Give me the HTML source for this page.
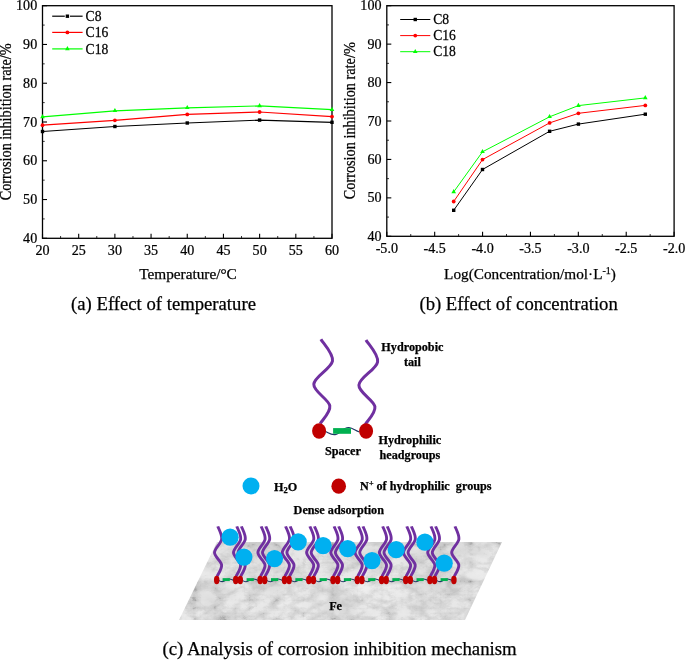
<!DOCTYPE html>
<html><head><meta charset="utf-8"><style>
html,body{margin:0;padding:0;background:#fff;width:685px;height:660px;overflow:hidden}
svg text{fill:#000;stroke:#000;stroke-width:0.25px}
svg{will-change:transform}
</style></head><body>
<svg width="685" height="660" viewBox="0 0 685 660" style="position:absolute;left:0;top:0" font-family='"Liberation Serif", serif'><rect x="42.5" y="5.7" width="289.5" height="232.60000000000002" fill="none" stroke="#000" stroke-width="1.3"/><line x1="42.50" y1="238.3" x2="42.50" y2="233.8" stroke="#000" stroke-width="1.1"/><line x1="78.69" y1="238.3" x2="78.69" y2="233.8" stroke="#000" stroke-width="1.1"/><line x1="114.88" y1="238.3" x2="114.88" y2="233.8" stroke="#000" stroke-width="1.1"/><line x1="151.06" y1="238.3" x2="151.06" y2="233.8" stroke="#000" stroke-width="1.1"/><line x1="187.25" y1="238.3" x2="187.25" y2="233.8" stroke="#000" stroke-width="1.1"/><line x1="223.44" y1="238.3" x2="223.44" y2="233.8" stroke="#000" stroke-width="1.1"/><line x1="259.62" y1="238.3" x2="259.62" y2="233.8" stroke="#000" stroke-width="1.1"/><line x1="295.81" y1="238.3" x2="295.81" y2="233.8" stroke="#000" stroke-width="1.1"/><line x1="332.00" y1="238.3" x2="332.00" y2="233.8" stroke="#000" stroke-width="1.1"/><line x1="60.59" y1="238.3" x2="60.59" y2="236.0" stroke="#000" stroke-width="0.8"/><line x1="96.78" y1="238.3" x2="96.78" y2="236.0" stroke="#000" stroke-width="0.8"/><line x1="132.97" y1="238.3" x2="132.97" y2="236.0" stroke="#000" stroke-width="0.8"/><line x1="169.16" y1="238.3" x2="169.16" y2="236.0" stroke="#000" stroke-width="0.8"/><line x1="205.34" y1="238.3" x2="205.34" y2="236.0" stroke="#000" stroke-width="0.8"/><line x1="241.53" y1="238.3" x2="241.53" y2="236.0" stroke="#000" stroke-width="0.8"/><line x1="277.72" y1="238.3" x2="277.72" y2="236.0" stroke="#000" stroke-width="0.8"/><line x1="313.91" y1="238.3" x2="313.91" y2="236.0" stroke="#000" stroke-width="0.8"/><line x1="42.5" y1="238.30" x2="47.0" y2="238.30" stroke="#000" stroke-width="1.1"/><line x1="42.5" y1="199.53" x2="47.0" y2="199.53" stroke="#000" stroke-width="1.1"/><line x1="42.5" y1="160.77" x2="47.0" y2="160.77" stroke="#000" stroke-width="1.1"/><line x1="42.5" y1="122.00" x2="47.0" y2="122.00" stroke="#000" stroke-width="1.1"/><line x1="42.5" y1="83.23" x2="47.0" y2="83.23" stroke="#000" stroke-width="1.1"/><line x1="42.5" y1="44.47" x2="47.0" y2="44.47" stroke="#000" stroke-width="1.1"/><line x1="42.5" y1="5.70" x2="47.0" y2="5.70" stroke="#000" stroke-width="1.1"/><line x1="42.5" y1="218.92" x2="44.7" y2="218.92" stroke="#000" stroke-width="0.8"/><line x1="42.5" y1="180.15" x2="44.7" y2="180.15" stroke="#000" stroke-width="0.8"/><line x1="42.5" y1="141.38" x2="44.7" y2="141.38" stroke="#000" stroke-width="0.8"/><line x1="42.5" y1="102.62" x2="44.7" y2="102.62" stroke="#000" stroke-width="0.8"/><line x1="42.5" y1="63.85" x2="44.7" y2="63.85" stroke="#000" stroke-width="0.8"/><line x1="42.5" y1="25.08" x2="44.7" y2="25.08" stroke="#000" stroke-width="0.8"/><text transform="translate(42.50,255.3) scale(0.94,1)" text-anchor="middle" font-size="15">20</text><text transform="translate(78.69,255.3) scale(0.94,1)" text-anchor="middle" font-size="15">25</text><text transform="translate(114.88,255.3) scale(0.94,1)" text-anchor="middle" font-size="15">30</text><text transform="translate(151.06,255.3) scale(0.94,1)" text-anchor="middle" font-size="15">35</text><text transform="translate(187.25,255.3) scale(0.94,1)" text-anchor="middle" font-size="15">40</text><text transform="translate(223.44,255.3) scale(0.94,1)" text-anchor="middle" font-size="15">45</text><text transform="translate(259.62,255.3) scale(0.94,1)" text-anchor="middle" font-size="15">50</text><text transform="translate(295.81,255.3) scale(0.94,1)" text-anchor="middle" font-size="15">55</text><text transform="translate(332.00,255.3) scale(0.94,1)" text-anchor="middle" font-size="15">60</text><text transform="translate(37.20,242.90) scale(0.94,1)" text-anchor="end" font-size="15">40</text><text transform="translate(37.20,204.13) scale(0.94,1)" text-anchor="end" font-size="15">50</text><text transform="translate(37.20,165.37) scale(0.94,1)" text-anchor="end" font-size="15">60</text><text transform="translate(37.20,126.60) scale(0.94,1)" text-anchor="end" font-size="15">70</text><text transform="translate(37.20,87.83) scale(0.94,1)" text-anchor="end" font-size="15">80</text><text transform="translate(37.20,49.07) scale(0.94,1)" text-anchor="end" font-size="15">90</text><text transform="translate(37.20,10.30) scale(0.94,1)" text-anchor="end" font-size="15">100</text><text transform="translate(11.2,121.8) rotate(-90) scale(0.905,1)" text-anchor="middle" font-size="15.8">Corrosion inhibition rate/%</text><text x="188" y="279" text-anchor="middle" font-size="15.3">Temperature/°C</text><path d="M42.50,131.50 L114.90,126.50 L187.25,123.00 L259.60,120.10 L332.00,122.30" fill="none" stroke="#000000" stroke-width="1.2"/><rect x="40.80" y="129.80" width="3.4" height="3.4" fill="#000000"/><rect x="113.20" y="124.80" width="3.4" height="3.4" fill="#000000"/><rect x="185.55" y="121.30" width="3.4" height="3.4" fill="#000000"/><rect x="257.90" y="118.40" width="3.4" height="3.4" fill="#000000"/><rect x="330.30" y="120.60" width="3.4" height="3.4" fill="#000000"/><path d="M42.50,125.20 L114.90,120.30 L187.25,114.40 L259.60,112.00 L332.00,116.60" fill="none" stroke="#ff0000" stroke-width="1.2"/><circle cx="42.50" cy="125.20" r="1.9" fill="#ff0000"/><circle cx="114.90" cy="120.30" r="1.9" fill="#ff0000"/><circle cx="187.25" cy="114.40" r="1.9" fill="#ff0000"/><circle cx="259.60" cy="112.00" r="1.9" fill="#ff0000"/><circle cx="332.00" cy="116.60" r="1.9" fill="#ff0000"/><path d="M42.50,116.90 L114.90,110.80 L187.25,107.80 L259.60,105.90 L332.00,109.60" fill="none" stroke="#00ff00" stroke-width="1.2"/><path d="M42.50,114.10 L44.80,118.20 L40.20,118.20Z" fill="#00ff00"/><path d="M114.90,108.00 L117.20,112.10 L112.60,112.10Z" fill="#00ff00"/><path d="M187.25,105.00 L189.55,109.10 L184.95,109.10Z" fill="#00ff00"/><path d="M259.60,103.10 L261.90,107.20 L257.30,107.20Z" fill="#00ff00"/><path d="M332.00,106.80 L334.30,110.90 L329.70,110.90Z" fill="#00ff00"/><line x1="52.2" y1="16.2" x2="64.80" y2="16.2" stroke="#000000" stroke-width="1.2"/><line x1="70.00" y1="16.2" x2="82.6" y2="16.2" stroke="#000000" stroke-width="1.2"/><rect x="65.70" y="14.50" width="3.4" height="3.4" fill="#000000"/><text transform="translate(85.6,20.9) scale(1,1.08)" font-size="13.6">C8</text><line x1="52.2" y1="32.4" x2="82.6" y2="32.4" stroke="#ff0000" stroke-width="1.2"/><circle cx="67.40" cy="32.40" r="1.9" fill="#ff0000"/><text transform="translate(85.6,37.1) scale(1,1.08)" font-size="13.6">C16</text><line x1="52.2" y1="48.9" x2="82.6" y2="48.9" stroke="#00ff00" stroke-width="1.2"/><path d="M67.40,46.10 L69.70,50.20 L65.10,50.20Z" fill="#00ff00"/><text transform="translate(85.6,53.6) scale(1,1.08)" font-size="13.6">C18</text><rect x="386.8" y="5.7" width="287.3" height="230.60000000000002" fill="none" stroke="#000" stroke-width="1.3"/><line x1="386.80" y1="236.3" x2="386.80" y2="231.8" stroke="#000" stroke-width="1.1"/><line x1="434.68" y1="236.3" x2="434.68" y2="231.8" stroke="#000" stroke-width="1.1"/><line x1="482.57" y1="236.3" x2="482.57" y2="231.8" stroke="#000" stroke-width="1.1"/><line x1="530.45" y1="236.3" x2="530.45" y2="231.8" stroke="#000" stroke-width="1.1"/><line x1="578.33" y1="236.3" x2="578.33" y2="231.8" stroke="#000" stroke-width="1.1"/><line x1="626.22" y1="236.3" x2="626.22" y2="231.8" stroke="#000" stroke-width="1.1"/><line x1="674.10" y1="236.3" x2="674.10" y2="231.8" stroke="#000" stroke-width="1.1"/><line x1="410.74" y1="236.3" x2="410.74" y2="234.0" stroke="#000" stroke-width="0.8"/><line x1="458.62" y1="236.3" x2="458.62" y2="234.0" stroke="#000" stroke-width="0.8"/><line x1="506.51" y1="236.3" x2="506.51" y2="234.0" stroke="#000" stroke-width="0.8"/><line x1="554.39" y1="236.3" x2="554.39" y2="234.0" stroke="#000" stroke-width="0.8"/><line x1="602.27" y1="236.3" x2="602.27" y2="234.0" stroke="#000" stroke-width="0.8"/><line x1="650.16" y1="236.3" x2="650.16" y2="234.0" stroke="#000" stroke-width="0.8"/><line x1="386.8" y1="236.30" x2="391.3" y2="236.30" stroke="#000" stroke-width="1.1"/><line x1="386.8" y1="197.87" x2="391.3" y2="197.87" stroke="#000" stroke-width="1.1"/><line x1="386.8" y1="159.43" x2="391.3" y2="159.43" stroke="#000" stroke-width="1.1"/><line x1="386.8" y1="121.00" x2="391.3" y2="121.00" stroke="#000" stroke-width="1.1"/><line x1="386.8" y1="82.57" x2="391.3" y2="82.57" stroke="#000" stroke-width="1.1"/><line x1="386.8" y1="44.13" x2="391.3" y2="44.13" stroke="#000" stroke-width="1.1"/><line x1="386.8" y1="5.70" x2="391.3" y2="5.70" stroke="#000" stroke-width="1.1"/><line x1="386.8" y1="217.08" x2="389.0" y2="217.08" stroke="#000" stroke-width="0.8"/><line x1="386.8" y1="178.65" x2="389.0" y2="178.65" stroke="#000" stroke-width="0.8"/><line x1="386.8" y1="140.22" x2="389.0" y2="140.22" stroke="#000" stroke-width="0.8"/><line x1="386.8" y1="101.78" x2="389.0" y2="101.78" stroke="#000" stroke-width="0.8"/><line x1="386.8" y1="63.35" x2="389.0" y2="63.35" stroke="#000" stroke-width="0.8"/><line x1="386.8" y1="24.92" x2="389.0" y2="24.92" stroke="#000" stroke-width="0.8"/><text transform="translate(386.80,253.3) scale(0.94,1)" text-anchor="middle" font-size="15">-5.0</text><text transform="translate(434.68,253.3) scale(0.94,1)" text-anchor="middle" font-size="15">-4.5</text><text transform="translate(482.57,253.3) scale(0.94,1)" text-anchor="middle" font-size="15">-4.0</text><text transform="translate(530.45,253.3) scale(0.94,1)" text-anchor="middle" font-size="15">-3.5</text><text transform="translate(578.33,253.3) scale(0.94,1)" text-anchor="middle" font-size="15">-3.0</text><text transform="translate(626.22,253.3) scale(0.94,1)" text-anchor="middle" font-size="15">-2.5</text><text transform="translate(674.10,253.3) scale(0.94,1)" text-anchor="middle" font-size="15">-2.0</text><text transform="translate(381.50,240.90) scale(0.94,1)" text-anchor="end" font-size="15">40</text><text transform="translate(381.50,202.47) scale(0.94,1)" text-anchor="end" font-size="15">50</text><text transform="translate(381.50,164.03) scale(0.94,1)" text-anchor="end" font-size="15">60</text><text transform="translate(381.50,125.60) scale(0.94,1)" text-anchor="end" font-size="15">70</text><text transform="translate(381.50,87.17) scale(0.94,1)" text-anchor="end" font-size="15">80</text><text transform="translate(381.50,48.73) scale(0.94,1)" text-anchor="end" font-size="15">90</text><text transform="translate(381.50,10.30) scale(0.94,1)" text-anchor="end" font-size="15">100</text><text transform="translate(354.8,120.75) rotate(-90) scale(0.905,1)" text-anchor="middle" font-size="15.8">Corrosion inhibition rate/%</text><text x="530.0" y="279.2" text-anchor="middle" font-size="15.25">Log(Concentration/mol·L<tspan font-size="10" dy="-5">-1</tspan><tspan dy="5">)</tspan></text><path d="M453.70,210.30 L482.50,169.50 L549.60,131.30 L578.40,124.10 L645.30,114.20" fill="none" stroke="#000000" stroke-width="1.0"/><rect x="452.00" y="208.60" width="3.4" height="3.4" fill="#000000"/><rect x="480.80" y="167.80" width="3.4" height="3.4" fill="#000000"/><rect x="547.90" y="129.60" width="3.4" height="3.4" fill="#000000"/><rect x="576.70" y="122.40" width="3.4" height="3.4" fill="#000000"/><rect x="643.60" y="112.50" width="3.4" height="3.4" fill="#000000"/><path d="M453.70,201.50 L482.50,159.60 L549.60,122.90 L578.40,113.30 L645.30,105.40" fill="none" stroke="#ff0000" stroke-width="1.0"/><circle cx="453.70" cy="201.50" r="1.9" fill="#ff0000"/><circle cx="482.50" cy="159.60" r="1.9" fill="#ff0000"/><circle cx="549.60" cy="122.90" r="1.9" fill="#ff0000"/><circle cx="578.40" cy="113.30" r="1.9" fill="#ff0000"/><circle cx="645.30" cy="105.40" r="1.9" fill="#ff0000"/><path d="M453.70,191.90 L482.50,151.80 L549.60,116.80 L578.40,105.60 L645.30,97.90" fill="none" stroke="#00ff00" stroke-width="1.0"/><path d="M453.70,189.10 L456.00,193.20 L451.40,193.20Z" fill="#00ff00"/><path d="M482.50,149.00 L484.80,153.10 L480.20,153.10Z" fill="#00ff00"/><path d="M549.60,114.00 L551.90,118.10 L547.30,118.10Z" fill="#00ff00"/><path d="M578.40,102.80 L580.70,106.90 L576.10,106.90Z" fill="#00ff00"/><path d="M645.30,95.10 L647.60,99.20 L643.00,99.20Z" fill="#00ff00"/><line x1="400.2" y1="19.5" x2="430.3" y2="19.5" stroke="#000000" stroke-width="1.0"/><rect x="413.55" y="17.80" width="3.4" height="3.4" fill="#000000"/><text transform="translate(433.2,24.2) scale(1,1.08)" font-size="13.6">C8</text><line x1="400.2" y1="35.6" x2="430.3" y2="35.6" stroke="#ff0000" stroke-width="1.0"/><circle cx="415.25" cy="35.60" r="1.9" fill="#ff0000"/><text transform="translate(433.2,40.300000000000004) scale(1,1.08)" font-size="13.6">C16</text><line x1="400.2" y1="51.7" x2="430.3" y2="51.7" stroke="#00ff00" stroke-width="1.0"/><path d="M415.25,48.90 L417.55,53.00 L412.95,53.00Z" fill="#00ff00"/><text transform="translate(433.2,56.400000000000006) scale(1,1.08)" font-size="13.6">C18</text><text x="163.5" y="310" text-anchor="middle" font-size="18.7">(a) Effect of temperature</text><text x="518.6" y="310" text-anchor="middle" font-size="18.7">(b) Effect of concentration</text><text x="339.6" y="655" text-anchor="middle" font-size="18.8">(c) Analysis of corrosion inhibition mechanism</text><defs><clipPath id="surf"><path d="M217,542 L502,542 L465,620 L179,620 Z"/></clipPath><filter id="marble" x="170" y="535" width="340" height="90" filterUnits="userSpaceOnUse" color-interpolation-filters="sRGB"><feTurbulence type="turbulence" baseFrequency="0.036 0.055" numOctaves="5" seed="3" result="n1"/><feTurbulence type="turbulence" baseFrequency="0.051 0.079" numOctaves="5" seed="11" result="n2"/><feComposite in="n1" in2="n2" operator="arithmetic" k1="0" k2="0.5" k3="0.5" k4="0" result="n"/><feColorMatrix type="matrix" in="n" values="0.33 0.33 0.33 0 0  0.33 0.33 0.33 0 0  0.33 0.33 0.33 0 0  0 0 0 0 1" result="g"/><feComponentTransfer in="g" result="v"><feFuncR type="table" tableValues="0.5 0.84 0.95 0.97 0.98 0.98"/><feFuncG type="table" tableValues="0.5 0.84 0.95 0.97 0.98 0.98"/><feFuncB type="table" tableValues="0.5 0.84 0.95 0.97 0.98 0.98"/></feComponentTransfer><feTurbulence type="fractalNoise" baseFrequency="0.022 0.035" numOctaves="3" seed="5" result="l"/><feColorMatrix type="matrix" in="l" values="0.33 0.33 0.33 0 0  0.33 0.33 0.33 0 0  0.33 0.33 0.33 0 0  0 0 0 0 1" result="lg"/><feComponentTransfer in="lg" result="lm"><feFuncR type="table" tableValues="0.78 0.86 0.95 1 1"/><feFuncG type="table" tableValues="0.78 0.86 0.95 1 1"/><feFuncB type="table" tableValues="0.78 0.86 0.95 1 1"/></feComponentTransfer><feComposite in="v" in2="lm" operator="arithmetic" k1="1" k2="0" k3="0" k4="0" result="m"/><feColorMatrix type="matrix" in="m" values="1 0 0 0 0  0 1 0 0 0  0 0 1 0 0  0 0 0 0 1"/><feGaussianBlur stdDeviation="0.45"/></filter><linearGradient id="fade" x1="0" y1="0" x2="0" y2="1"><stop offset="0" stop-color="#fff" stop-opacity="0.45"/><stop offset="0.35" stop-color="#fff" stop-opacity="0.1"/><stop offset="1" stop-color="#fff" stop-opacity="0"/></linearGradient></defs><g clip-path="url(#surf)"><rect x="170" y="535" width="340" height="90" fill="#ddd" filter="url(#marble)"/></g><path d="M320.90,339.20 C322.83,342.85 333.68,353.60 332.50,361.10 C331.32,368.60 314.25,376.75 313.80,384.20 C313.35,391.65 328.73,399.23 329.80,405.80 C330.87,412.37 321.80,420.63 320.20,423.60" fill="none" stroke="#7030a0" stroke-width="3" stroke-linecap="butt"/><path d="M366.00,340.00 C367.93,343.65 378.78,354.40 377.60,361.90 C376.42,369.40 359.35,377.55 358.90,385.00 C358.45,392.45 373.83,400.03 374.90,406.60 C375.97,413.17 366.90,421.43 365.30,424.40" fill="none" stroke="#7030a0" stroke-width="3" stroke-linecap="butt"/><path d="M325.5,431.5 C329,433 331,435.5 336,434.5 C341,433 343,427 349,427.5 C353,428 355,430.5 359.5,432" fill="none" stroke="#1f3864" stroke-width="1.1"/><rect x="333.1" y="428.1" width="17.9" height="5.7" fill="#00b050"/><ellipse cx="319.1" cy="431" rx="7" ry="7.7" fill="#c00000"/><ellipse cx="366.1" cy="431" rx="7" ry="7.7" fill="#c00000"/><text x="412.4" y="351.4" text-anchor="middle" font-weight="bold" font-size="12.2">Hydropobic</text><text x="412.4" y="365.7" text-anchor="middle" font-weight="bold" font-size="12.2">tail</text><text x="342.9" y="455" text-anchor="middle" font-weight="bold" font-size="12.2">Spacer</text><text x="409.9" y="444.2" text-anchor="middle" font-weight="bold" font-size="12.2">Hydrophilic</text><text x="409.9" y="458.6" text-anchor="middle" font-weight="bold" font-size="12.2">headgroups</text><circle cx="251" cy="485.9" r="8.5" fill="#00b0f0"/><text x="273.9" y="490.6" font-weight="bold" font-size="12.2">H<tspan font-size="8.5" dy="2.5">2</tspan><tspan dy="-2.5">O</tspan></text><ellipse cx="338.7" cy="486.2" rx="7.3" ry="7.6" fill="#c00000"/><text x="360.1" y="490.4" font-weight="bold" font-size="12.2" xml:space="preserve">N<tspan font-size="8" dy="-4">+</tspan><tspan dy="4"> of hydrophilic  groups</tspan></text><text x="338.8" y="514.1" text-anchor="middle" font-weight="bold" font-size="12.2">Dense adsorption</text><path d="M217.80,526.30 C218.45,528.43 222.25,534.72 221.70,539.10 C221.15,543.48 214.52,548.32 214.50,552.60 C214.48,556.88 221.15,560.87 221.60,564.80 C222.05,568.73 217.93,574.30 217.20,576.20" fill="none" stroke="#7030a0" stroke-width="2.9" stroke-linecap="butt"/><path d="M236.80,526.30 C237.45,528.43 241.25,534.72 240.70,539.10 C240.15,543.48 233.52,548.32 233.50,552.60 C233.48,556.88 240.15,560.87 240.60,564.80 C241.05,568.73 236.93,574.30 236.20,576.20" fill="none" stroke="#7030a0" stroke-width="2.9" stroke-linecap="butt"/><path d="M241.40,526.30 C242.05,528.43 245.85,534.72 245.30,539.10 C244.75,543.48 238.12,548.32 238.10,552.60 C238.08,556.88 244.75,560.87 245.20,564.80 C245.65,568.73 241.53,574.30 240.80,576.20" fill="none" stroke="#7030a0" stroke-width="2.9" stroke-linecap="butt"/><path d="M261.20,526.30 C261.85,528.43 265.65,534.72 265.10,539.10 C264.55,543.48 257.92,548.32 257.90,552.60 C257.88,556.88 264.55,560.87 265.00,564.80 C265.45,568.73 261.33,574.30 260.60,576.20" fill="none" stroke="#7030a0" stroke-width="2.9" stroke-linecap="butt"/><path d="M265.80,526.30 C266.45,528.43 270.25,534.72 269.70,539.10 C269.15,543.48 262.52,548.32 262.50,552.60 C262.48,556.88 269.15,560.87 269.60,564.80 C270.05,568.73 265.93,574.30 265.20,576.20" fill="none" stroke="#7030a0" stroke-width="2.9" stroke-linecap="butt"/><path d="M285.60,526.30 C286.25,528.43 290.05,534.72 289.50,539.10 C288.95,543.48 282.32,548.32 282.30,552.60 C282.28,556.88 288.95,560.87 289.40,564.80 C289.85,568.73 285.73,574.30 285.00,576.20" fill="none" stroke="#7030a0" stroke-width="2.9" stroke-linecap="butt"/><path d="M290.20,526.30 C290.85,528.43 294.65,534.72 294.10,539.10 C293.55,543.48 286.92,548.32 286.90,552.60 C286.88,556.88 293.55,560.87 294.00,564.80 C294.45,568.73 290.33,574.30 289.60,576.20" fill="none" stroke="#7030a0" stroke-width="2.9" stroke-linecap="butt"/><path d="M309.90,526.30 C310.55,528.43 314.35,534.72 313.80,539.10 C313.25,543.48 306.62,548.32 306.60,552.60 C306.58,556.88 313.25,560.87 313.70,564.80 C314.15,568.73 310.03,574.30 309.30,576.20" fill="none" stroke="#7030a0" stroke-width="2.9" stroke-linecap="butt"/><path d="M314.50,526.30 C315.15,528.43 318.95,534.72 318.40,539.10 C317.85,543.48 311.22,548.32 311.20,552.60 C311.18,556.88 317.85,560.87 318.30,564.80 C318.75,568.73 314.63,574.30 313.90,576.20" fill="none" stroke="#7030a0" stroke-width="2.9" stroke-linecap="butt"/><path d="M334.10,526.30 C334.75,528.43 338.55,534.72 338.00,539.10 C337.45,543.48 330.82,548.32 330.80,552.60 C330.78,556.88 337.45,560.87 337.90,564.80 C338.35,568.73 334.23,574.30 333.50,576.20" fill="none" stroke="#7030a0" stroke-width="2.9" stroke-linecap="butt"/><path d="M338.70,526.30 C339.35,528.43 343.15,534.72 342.60,539.10 C342.05,543.48 335.42,548.32 335.40,552.60 C335.38,556.88 342.05,560.87 342.50,564.80 C342.95,568.73 338.83,574.30 338.10,576.20" fill="none" stroke="#7030a0" stroke-width="2.9" stroke-linecap="butt"/><path d="M358.40,526.30 C359.05,528.43 362.85,534.72 362.30,539.10 C361.75,543.48 355.12,548.32 355.10,552.60 C355.08,556.88 361.75,560.87 362.20,564.80 C362.65,568.73 358.53,574.30 357.80,576.20" fill="none" stroke="#7030a0" stroke-width="2.9" stroke-linecap="butt"/><path d="M363.00,526.30 C363.65,528.43 367.45,534.72 366.90,539.10 C366.35,543.48 359.72,548.32 359.70,552.60 C359.68,556.88 366.35,560.87 366.80,564.80 C367.25,568.73 363.13,574.30 362.40,576.20" fill="none" stroke="#7030a0" stroke-width="2.9" stroke-linecap="butt"/><path d="M382.70,526.30 C383.35,528.43 387.15,534.72 386.60,539.10 C386.05,543.48 379.42,548.32 379.40,552.60 C379.38,556.88 386.05,560.87 386.50,564.80 C386.95,568.73 382.83,574.30 382.10,576.20" fill="none" stroke="#7030a0" stroke-width="2.9" stroke-linecap="butt"/><path d="M387.30,526.30 C387.95,528.43 391.75,534.72 391.20,539.10 C390.65,543.48 384.02,548.32 384.00,552.60 C383.98,556.88 390.65,560.87 391.10,564.80 C391.55,568.73 387.43,574.30 386.70,576.20" fill="none" stroke="#7030a0" stroke-width="2.9" stroke-linecap="butt"/><path d="M406.80,526.30 C407.45,528.43 411.25,534.72 410.70,539.10 C410.15,543.48 403.52,548.32 403.50,552.60 C403.48,556.88 410.15,560.87 410.60,564.80 C411.05,568.73 406.93,574.30 406.20,576.20" fill="none" stroke="#7030a0" stroke-width="2.9" stroke-linecap="butt"/><path d="M411.40,526.30 C412.05,528.43 415.85,534.72 415.30,539.10 C414.75,543.48 408.12,548.32 408.10,552.60 C408.08,556.88 414.75,560.87 415.20,564.80 C415.65,568.73 411.53,574.30 410.80,576.20" fill="none" stroke="#7030a0" stroke-width="2.9" stroke-linecap="butt"/><path d="M431.00,526.30 C431.65,528.43 435.45,534.72 434.90,539.10 C434.35,543.48 427.72,548.32 427.70,552.60 C427.68,556.88 434.35,560.87 434.80,564.80 C435.25,568.73 431.13,574.30 430.40,576.20" fill="none" stroke="#7030a0" stroke-width="2.9" stroke-linecap="butt"/><path d="M435.60,526.30 C436.25,528.43 440.05,534.72 439.50,539.10 C438.95,543.48 432.32,548.32 432.30,552.60 C432.28,556.88 438.95,560.87 439.40,564.80 C439.85,568.73 435.73,574.30 435.00,576.20" fill="none" stroke="#7030a0" stroke-width="2.9" stroke-linecap="butt"/><path d="M455.00,526.30 C455.65,528.43 459.45,534.72 458.90,539.10 C458.35,543.48 451.72,548.32 451.70,552.60 C451.68,556.88 458.35,560.87 458.80,564.80 C459.25,568.73 455.13,574.30 454.40,576.20" fill="none" stroke="#7030a0" stroke-width="2.9" stroke-linecap="butt"/><path d="M218.70,580.30 C220.70,581.80 222.20,582.20 224.20,581.00 C227.20,579.00 229.20,578.20 231.70,579.60 L233.70,580.50" fill="none" stroke="#1f3864" stroke-width="1.05"/><rect x="222.60" y="578.15" width="7.2" height="2.9" fill="#00b050"/><ellipse cx="216.70" cy="580.0" rx="2.75" ry="4.2" fill="#c00000"/><ellipse cx="235.70" cy="580.0" rx="2.75" ry="4.2" fill="#c00000"/><path d="M242.30,580.30 C244.30,581.80 246.20,582.20 248.20,581.00 C251.20,579.00 253.20,578.20 256.10,579.60 L258.10,580.50" fill="none" stroke="#1f3864" stroke-width="1.05"/><rect x="246.60" y="578.15" width="7.2" height="2.9" fill="#00b050"/><ellipse cx="240.30" cy="580.0" rx="2.75" ry="4.2" fill="#c00000"/><ellipse cx="260.10" cy="580.0" rx="2.75" ry="4.2" fill="#c00000"/><path d="M266.70,580.30 C268.70,581.80 270.60,582.20 272.60,581.00 C275.60,579.00 277.60,578.20 280.50,579.60 L282.50,580.50" fill="none" stroke="#1f3864" stroke-width="1.05"/><rect x="271.00" y="578.15" width="7.2" height="2.9" fill="#00b050"/><ellipse cx="264.70" cy="580.0" rx="2.75" ry="4.2" fill="#c00000"/><ellipse cx="284.50" cy="580.0" rx="2.75" ry="4.2" fill="#c00000"/><path d="M291.10,580.30 C293.10,581.80 294.95,582.20 296.95,581.00 C299.95,579.00 301.95,578.20 304.80,579.60 L306.80,580.50" fill="none" stroke="#1f3864" stroke-width="1.05"/><rect x="295.35" y="578.15" width="7.2" height="2.9" fill="#00b050"/><ellipse cx="289.10" cy="580.0" rx="2.75" ry="4.2" fill="#c00000"/><ellipse cx="308.80" cy="580.0" rx="2.75" ry="4.2" fill="#c00000"/><path d="M315.40,580.30 C317.40,581.80 319.20,582.20 321.20,581.00 C324.20,579.00 326.20,578.20 329.00,579.60 L331.00,580.50" fill="none" stroke="#1f3864" stroke-width="1.05"/><rect x="319.60" y="578.15" width="7.2" height="2.9" fill="#00b050"/><ellipse cx="313.40" cy="580.0" rx="2.75" ry="4.2" fill="#c00000"/><ellipse cx="333.00" cy="580.0" rx="2.75" ry="4.2" fill="#c00000"/><path d="M339.60,580.30 C341.60,581.80 343.45,582.20 345.45,581.00 C348.45,579.00 350.45,578.20 353.30,579.60 L355.30,580.50" fill="none" stroke="#1f3864" stroke-width="1.05"/><rect x="343.85" y="578.15" width="7.2" height="2.9" fill="#00b050"/><ellipse cx="337.60" cy="580.0" rx="2.75" ry="4.2" fill="#c00000"/><ellipse cx="357.30" cy="580.0" rx="2.75" ry="4.2" fill="#c00000"/><path d="M363.90,580.30 C365.90,581.80 367.75,582.20 369.75,581.00 C372.75,579.00 374.75,578.20 377.60,579.60 L379.60,580.50" fill="none" stroke="#1f3864" stroke-width="1.05"/><rect x="368.15" y="578.15" width="7.2" height="2.9" fill="#00b050"/><ellipse cx="361.90" cy="580.0" rx="2.75" ry="4.2" fill="#c00000"/><ellipse cx="381.60" cy="580.0" rx="2.75" ry="4.2" fill="#c00000"/><path d="M388.20,580.30 C390.20,581.80 391.95,582.20 393.95,581.00 C396.95,579.00 398.95,578.20 401.70,579.60 L403.70,580.50" fill="none" stroke="#1f3864" stroke-width="1.05"/><rect x="392.35" y="578.15" width="7.2" height="2.9" fill="#00b050"/><ellipse cx="386.20" cy="580.0" rx="2.75" ry="4.2" fill="#c00000"/><ellipse cx="405.70" cy="580.0" rx="2.75" ry="4.2" fill="#c00000"/><path d="M412.30,580.30 C414.30,581.80 416.10,582.20 418.10,581.00 C421.10,579.00 423.10,578.20 425.90,579.60 L427.90,580.50" fill="none" stroke="#1f3864" stroke-width="1.05"/><rect x="416.50" y="578.15" width="7.2" height="2.9" fill="#00b050"/><ellipse cx="410.30" cy="580.0" rx="2.75" ry="4.2" fill="#c00000"/><ellipse cx="429.90" cy="580.0" rx="2.75" ry="4.2" fill="#c00000"/><path d="M436.50,580.30 C438.50,581.80 440.20,582.20 442.20,581.00 C445.20,579.00 447.20,578.20 449.90,579.60 L451.90,580.50" fill="none" stroke="#1f3864" stroke-width="1.05"/><rect x="440.60" y="578.15" width="7.2" height="2.9" fill="#00b050"/><ellipse cx="434.50" cy="580.0" rx="2.75" ry="4.2" fill="#c00000"/><ellipse cx="453.90" cy="580.0" rx="2.75" ry="4.2" fill="#c00000"/><circle cx="230.1" cy="537.2" r="8.6" fill="#00b0f0"/><circle cx="243.9" cy="557.1" r="8.6" fill="#00b0f0"/><circle cx="274.5" cy="558.6" r="8.6" fill="#00b0f0"/><circle cx="298.2" cy="541.8" r="8.6" fill="#00b0f0"/><circle cx="323.1" cy="545.6" r="8.6" fill="#00b0f0"/><circle cx="347.7" cy="548.6" r="8.6" fill="#00b0f0"/><circle cx="372.0" cy="560.6" r="8.6" fill="#00b0f0"/><circle cx="396.2" cy="549.7" r="8.6" fill="#00b0f0"/><circle cx="424.9" cy="542.2" r="8.6" fill="#00b0f0"/><circle cx="444.2" cy="563.2" r="8.6" fill="#00b0f0"/><text x="335.6" y="609.6" text-anchor="middle" font-weight="bold" font-size="12.2">Fe</text></svg>
</body></html>
